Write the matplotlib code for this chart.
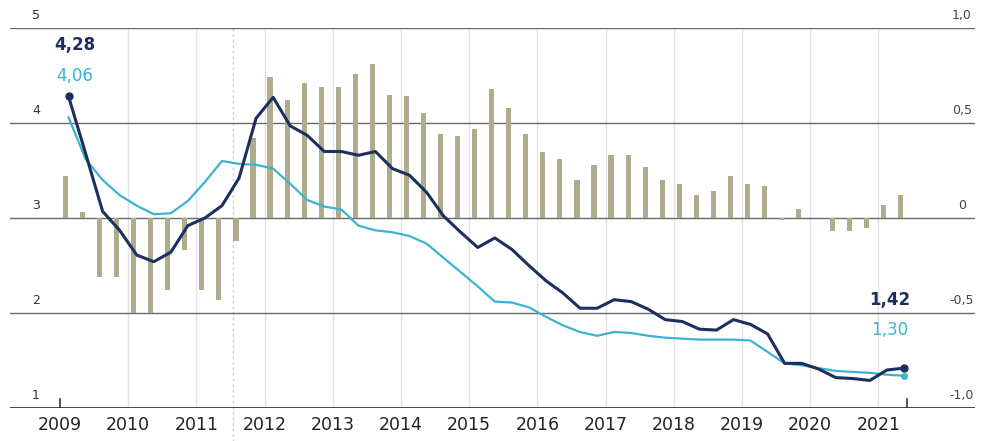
import matplotlib.pyplot as plt
import numpy as np

# quarterly series, first quarter ~ Q1 2009
start = 2009.125
dark_vals = [4.28, 3.68, 3.07, 2.87, 2.61, 2.54, 2.64, 2.92, 3.00, 3.13,
             3.42, 4.05, 4.27, 3.97, 3.87, 3.70, 3.70, 3.66, 3.70, 3.52,
             3.45, 3.27, 3.02, 2.85, 2.69, 2.79, 2.67, 2.50, 2.34, 2.21,
             2.05, 2.05, 2.14, 2.12, 2.04, 1.93, 1.91, 1.83, 1.82, 1.93,
             1.88, 1.78, 1.47, 1.47, 1.41, 1.32, 1.31, 1.29, 1.40, 1.42]
light_vals = [4.06, 3.62, 3.40, 3.24, 3.13, 3.04, 3.05, 3.18, 3.38, 3.60,
              3.57, 3.56, 3.52, 3.36, 3.19, 3.12, 3.09, 2.92, 2.87, 2.85,
              2.81, 2.73, 2.58, 2.43, 2.28, 2.12, 2.11, 2.06, 1.96, 1.87,
              1.80, 1.76, 1.80, 1.79, 1.76, 1.74, 1.73, 1.72, 1.72, 1.72,
              1.71, 1.59, 1.47, 1.45, 1.42, 1.39, 1.38, 1.37, 1.35, 1.34]
bar_vals = [0.22, 0.03, -0.31, -0.31, -0.50, -0.50, -0.38, -0.17, -0.38, -0.43,
            -0.12, 0.42, 0.74, 0.62, 0.71, 0.69, 0.69, 0.76, 0.81, 0.65,
            0.64, 0.55, 0.44, 0.43, 0.47, 0.68, 0.58, 0.44, 0.35, 0.31,
            0.20, 0.28, 0.33, 0.33, 0.27, 0.20, 0.18, 0.12, 0.14, 0.22,
            0.18, 0.17, -0.01, 0.05, 0.0, -0.07, -0.07, -0.05, 0.07, 0.12]
years = list(range(2009, 2022))
left_ticks = [1, 2, 3, 4, 5]
right_labels = ["-1,0", "-0,5", "0", "0,5", "1,0"]

dark = "#1c2f5f"
light = "#3cb4cf"
barc = "#aeac8c"

x = start + 0.25 * np.arange(len(dark_vals))
xb = x - 0.045

fig = plt.figure(figsize=(9.85, 4.41), dpi=100)
ax = fig.add_axes([10/985, 33/441, 965/985, 380/441])
ax2 = ax.twinx()
ax.set_zorder(2)
ax.patch.set_visible(False)

x0 = 2009 + (10 - 60) / 68.2
x1 = 2009 + (975 - 60) / 68.2
ax.set_xlim(x0, x1)
ax.set_ylim(1, 5)
ax2.set_ylim(-1, 1)

for a in (ax, ax2):
    for s in a.spines.values():
        s.set_visible(False)
    a.set_xticks([])
    a.set_yticks([])

# year grid lines
for yr in years[1:]:
    ax2.axvline(yr, color="#e3e3e3", lw=1, zorder=0)
ax2.axvline(2011.53, color="#cfcfcf", lw=1, ls=(0, (2, 2)), zorder=0, ymin=-0.1, clip_on=False)

# horizontal grid
for t in left_ticks[1:]:
    ax2.axhline((t - 3) / 2, color="#6a6a6a", lw=1, zorder=1)
ax2.axhline(-1, color="#333333", lw=2, zorder=1)

ax2.bar(xb, bar_vals, width=0.075, color=barc, zorder=2)

ax.plot(x, light_vals, color=light, lw=1.6, zorder=3)
ax.plot(x, dark_vals, color=dark, lw=2.2, zorder=4)
ax.plot([x[0], x[-1]], [dark_vals[0], dark_vals[-1]], "o", color=dark, ms=5, zorder=5, clip_on=False)
ax.plot([x[-1]], [light_vals[-1]], "o", color=light, ms=4, zorder=5, clip_on=False)

# ticks at baseline
for xt in [2009, 2021.42]:
    ax.plot([xt, xt], [1, 1.1], color="#333333", lw=1.2)

# axis labels
for t in left_ticks:
    ax.text(2009 + (36 - 60) / 68.2, t + 0.06, str(t), fontsize=9, color="#333333",
            ha="center", va="bottom")
for t, lab in zip(left_ticks, right_labels):
    ax.text(2009 + (962 - 60) / 68.2, t + 0.06, lab, fontsize=9, color="#444444",
            ha="center", va="bottom")
for yr in years:
    ax.text(yr, 0.92, str(yr), fontsize=12.5, color="#222222", ha="center", va="top")

# value annotations
ax.text(2009 + (75 - 60) / 68.2, 4.82, "4,28", fontsize=12, color=dark, fontweight="bold",
        ha="center", va="center")
ax.text(2009 + (75 - 60) / 68.2, 4.49, "4,06", fontsize=12, color=light,
        ha="center", va="center")
ax.text(2009 + (890 - 60) / 68.2, 2.14, "1,42", fontsize=12, color=dark, fontweight="bold",
        ha="center", va="center")
ax.text(2009 + (890 - 60) / 68.2, 1.82, "1,30", fontsize=12, color=light,
        ha="center", va="center")

plt.savefig("out.png", dpi=100)
